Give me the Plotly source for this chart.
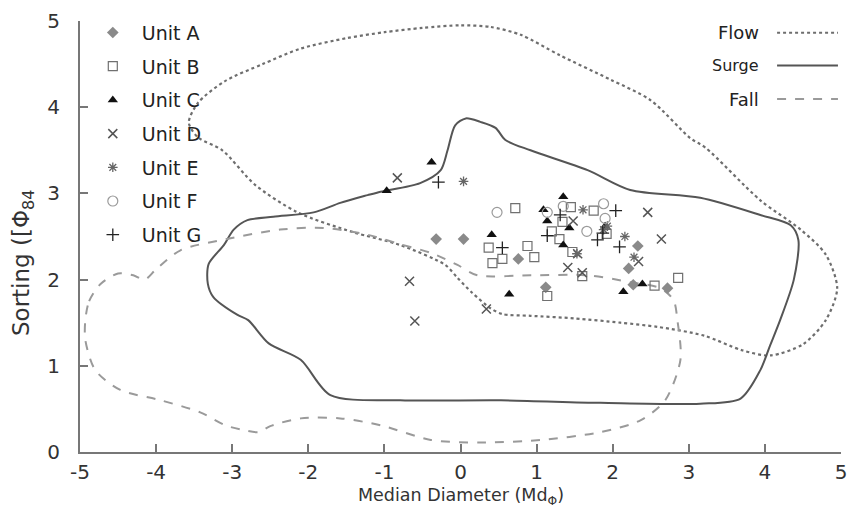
import plotly.graph_objects as go

# ---- sample data: median diameter (Md_phi) vs sorting ----
unit_a_x = [-0.32, 0.04, 0.76, 1.12, 2.21, 2.27, 2.33, 2.72]
unit_a_y = [2.47, 2.47, 2.24, 1.91, 2.13, 1.94, 2.39, 1.90]

unit_b_x = [0.72, 0.37, 0.42, 0.55, 0.88, 0.97, 1.20, 1.30, 1.34, 1.45, 1.47, 1.60, 1.75, 1.92, 1.14, 2.55, 2.86]
unit_b_y = [2.83, 2.37, 2.19, 2.24, 2.39, 2.26, 2.56, 2.47, 2.67, 2.84, 2.32, 2.04, 2.80, 2.53, 1.81, 1.93, 2.02]

unit_c_x = [-0.38, -0.97, 0.41, 0.64, 1.35, 1.09, 1.14, 1.43, 1.35, 2.14, 2.39, 1.90]
unit_c_y = [3.36, 3.03, 2.52, 1.83, 2.96, 2.81, 2.68, 2.60, 2.40, 1.86, 1.95, 2.62]

unit_d_x = [-0.83, -0.67, -0.60, 0.34, 2.46, 2.64, 2.34, 1.41, 1.60, 1.48, 1.54]
unit_d_y = [3.18, 1.98, 1.52, 1.66, 2.78, 2.47, 2.21, 2.14, 2.08, 2.68, 2.30]

unit_e_x = [0.04, 1.61, 1.93, 2.16, 2.28, 1.53, 1.88]
unit_e_y = [3.14, 2.81, 2.62, 2.50, 2.26, 2.30, 2.58]

unit_f_x = [0.48, 1.14, 1.35, 1.88, 1.90, 1.66]
unit_f_y = [2.78, 2.78, 2.85, 2.88, 2.71, 2.56]

unit_g_x = [-0.29, 0.55, 1.14, 1.31, 2.04, 1.80, 1.87, 2.09]
unit_g_y = [3.13, 2.37, 2.51, 2.75, 2.80, 2.46, 2.54, 2.38]

# ---- depositional fields (closed outlines) ----
flow_x = [0.0, 0.4, 0.79, 1.31, 1.97, 2.5, 3.02, 3.22, 3.94, 4.47, 4.8, 4.95, 4.8, 4.5, 4.07, 3.7, 3.2,
          2.6, 2.1, 1.5, 0.92, 0.55, 0.39, 0.15, -0.04, -0.2, -0.79, -1.41, -2.14, -2.7, -3.13, -3.45,
          -3.57, -3.45, -3.1, -2.6, -2.1, -1.5, -1.0, -0.5, 0.0]
flow_y = [4.95, 4.93, 4.84, 4.6, 4.32, 4.08, 3.64, 3.53, 2.92, 2.58, 2.29, 1.9, 1.53, 1.25, 1.12, 1.18, 1.35,
          1.45, 1.5, 1.55, 1.58, 1.6, 1.67, 1.85, 2.02, 2.17, 2.4, 2.55, 2.78, 3.1, 3.5, 3.65,
          3.82, 4.05, 4.3, 4.5, 4.68, 4.8, 4.87, 4.92, 4.95]

surge_x = [-1.05, -0.53, -0.26, -0.17, -0.07, 0.07, 0.26, 0.46, 0.59, 0.92, 1.67, 2.23, 3.15, 3.94, 4.34,
           4.44, 4.38, 4.2, 4.07, 3.94, 3.68, 3.15, 1.84, 0.53, -0.79, -1.71, -2.1, -2.52, -2.79, -2.93,
           -3.25, -3.32, -3.31, -3.11, -2.98, -2.8, -2.46, -1.93, -1.58, -1.22, -1.05]
surge_y = [3.02, 3.12, 3.27, 3.5, 3.79, 3.87, 3.83, 3.76, 3.62, 3.5, 3.27, 3.04, 2.95, 2.75, 2.63,
           2.46, 2.0, 1.53, 1.24, 0.95, 0.62, 0.56, 0.57, 0.6, 0.6, 0.66, 1.07, 1.26, 1.53, 1.59,
           1.8, 1.95, 2.18, 2.4, 2.58, 2.69, 2.73, 2.78, 2.89, 2.98, 3.02]

fall_x = [-4.93, -4.88, -4.73, -4.5, -4.3, -4.15, -4.0, -3.68, -3.02, -2.37, -1.8, -1.22, -0.79, -0.39,
          -0.04, 0.22, 0.92, 1.67, 2.23, 2.63, 2.8, 2.85, 2.89, 2.69, 2.37, 1.84, 1.05, 0.26, -0.39,
          -1.05, -1.58, -2.1, -2.5, -2.65, -2.83, -3.09, -3.42, -3.94, -4.47, -4.8, -4.93, -4.93]
fall_y = [1.53, 1.75, 1.95, 2.07, 2.05, 2.0, 2.12, 2.34, 2.48, 2.58, 2.6, 2.52, 2.41, 2.31,
          2.17, 2.05, 2.05, 2.05, 1.97, 1.9, 1.76, 1.53, 1.07, 0.6, 0.37, 0.23, 0.14, 0.11, 0.14,
          0.31, 0.39, 0.39, 0.3, 0.23, 0.25, 0.31, 0.46, 0.6, 0.72, 0.95, 1.3, 1.53]

# ---- axis ticks (plain hyphen for negatives) ----
x_ticks = [-5, -4, -3, -2, -1, 0, 1, 2, 3, 4, 5]
x_tick_text = ["-5", "-4", "-3", "-2", "-1", "0", "1", "2", "3", "4", "5"]
y_ticks = [0, 1, 2, 3, 4, 5]
y_tick_text = ["0", "1", "2", "3", "4", "5"]

FONT = "DejaVu Sans"

fig = go.Figure()

# outlines first so the samples sit on top
field_style = [
    (flow_x, flow_y, "#6e6e6e", "dot", 2.2),
    (surge_x, surge_y, "#555555", "solid", 2.0),
    (fall_x, fall_y, "#9a9a9a", "dash", 2.0),
]
for fx, fy, col, dash, w in field_style:
    fig.add_trace(go.Scatter(x=fx, y=fy, mode="lines", showlegend=False, hoverinfo="skip",
                             line=dict(color=col, dash=dash, width=w, shape="spline", smoothing=0.8)))

units = [
    ("Unit A", unit_a_x, unit_a_y, dict(symbol="diamond", size=9, color="#8a8a8a")),
    ("Unit B", unit_b_x, unit_b_y, dict(symbol="square-open", size=9, color="#707070", line=dict(width=1.2))),
    ("Unit C", unit_c_x, unit_c_y, dict(symbol="triangle-up", size=9, color="#111111")),
    ("Unit D", unit_d_x, unit_d_y, dict(symbol="x-thin-open", size=9, color="#555555", line=dict(width=1.5))),
    ("Unit E", unit_e_x, unit_e_y, dict(symbol="asterisk-open", size=8, color="#666666", line=dict(width=1.3))),
    ("Unit F", unit_f_x, unit_f_y, dict(symbol="circle-open", size=10, color="#9a9a9a", line=dict(width=1.2))),
    ("Unit G", unit_g_x, unit_g_y, dict(symbol="cross-thin-open", size=9, color="#222222", line=dict(width=1.3))),
]
for name, ux, uy, mk in units:
    fig.add_trace(go.Scatter(x=ux, y=uy, mode="markers", name=name, legendgroup=name, marker=mk))

# key for the outlines (text to the left of each line sample)
key_rows = [("Flow", 0.973, 18, "dot", "#6e6e6e"),
            ("Surge", 0.897, 16, "solid", "#555555"),
            ("Fall", 0.819, 18, "dash", "#9a9a9a")]
for label, yp, fs, dash, col in key_rows:
    fig.add_annotation(xref="paper", yref="paper", x=0.895, y=yp, text=label, showarrow=False,
                       xanchor="right", yanchor="middle", font=dict(family=FONT, size=fs, color="#222"))
    fig.add_shape(type="line", xref="paper", yref="paper", x0=0.916, x1=0.996, y0=yp, y1=yp,
                  line=dict(color=col, dash=dash, width=2))

# axis titles
fig.add_annotation(xref="paper", yref="paper", x=-0.074, y=0.44, text="Sorting ([Φ<sub>84</sub>",
                   textangle=-90, showarrow=False, xanchor="center", yanchor="middle",
                   font=dict(family=FONT, size=23, color="#333"))
fig.add_annotation(xref="paper", yref="paper", x=0.5, y=-0.104, text="Median Diameter (Md<sub>Φ</sub>)",
                   showarrow=False, xanchor="center", yanchor="middle",
                   font=dict(family=FONT, size=17.5, color="#333"))

axis_common = dict(showline=True, linecolor="#777", linewidth=2, ticks="inside", ticklen=8,
                   tickcolor="#777", tickwidth=1.5, showgrid=False, zeroline=False, automargin=False,
                   tickfont=dict(family=FONT, size=20, color="#333"))

fig.update_layout(
    width=858, height=513,
    margin=dict(l=80, r=17, t=21, b=61, autoexpand=False),
    paper_bgcolor="white", plot_bgcolor="white",
    font=dict(family=FONT, color="#222"),
    xaxis=dict(range=[-5, 5], tickmode="array", tickvals=x_ticks, ticktext=x_tick_text,
               ticklabelstandoff=1, **axis_common),
    yaxis=dict(range=[0, 5], tickmode="array", tickvals=y_ticks, ticktext=y_tick_text,
               ticklabelstandoff=14, **axis_common),
    legend=dict(x=0.005, y=1.017, xanchor="left", yanchor="top", bgcolor="rgba(0,0,0,0)",
                font=dict(family=FONT, size=19, color="#222"), tracegroupgap=6, itemwidth=48),
    showlegend=True,
)

fig.write_html("out.html")
